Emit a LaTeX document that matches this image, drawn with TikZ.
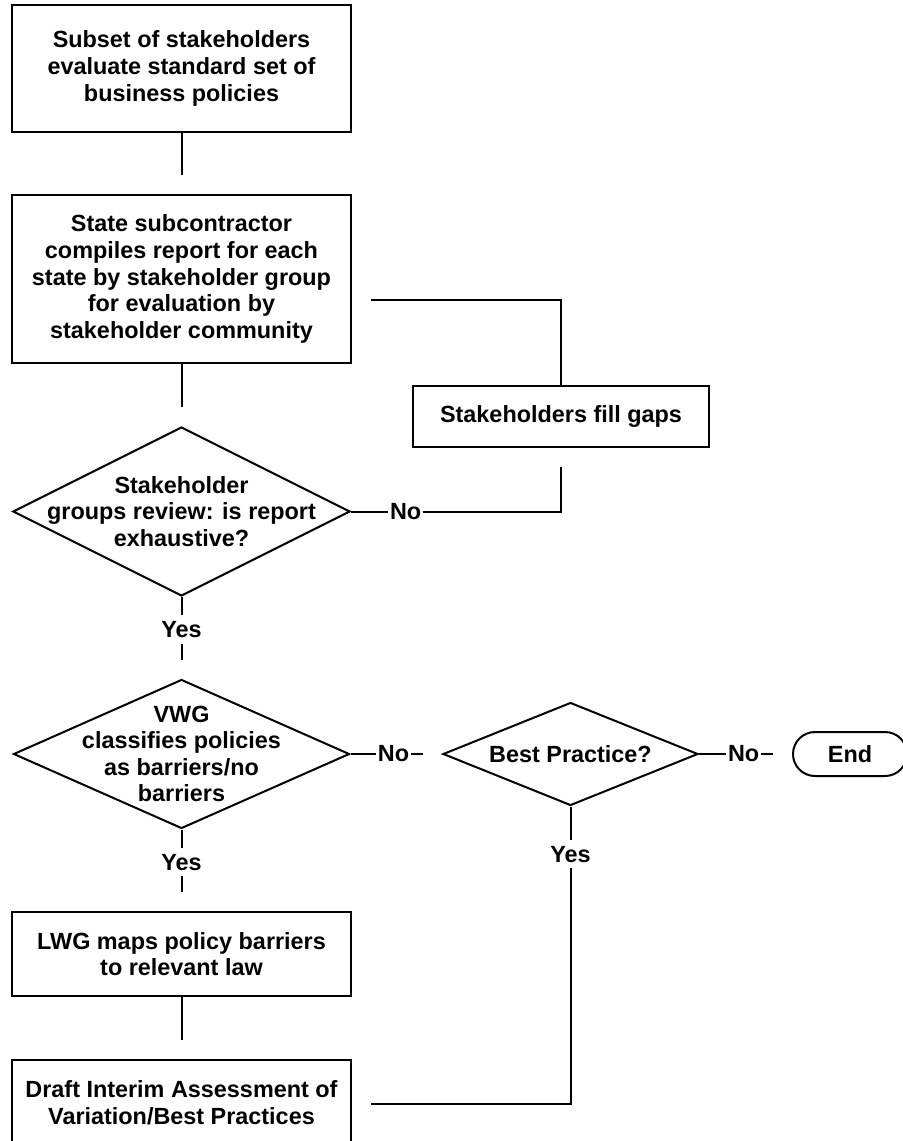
\documentclass[tikz,border=0pt]{standalone}
\usepackage{fontspec}
\setmainfont{Liberation Sans}
\usetikzlibrary{shapes.geometric}

\begin{document}
\begin{tikzpicture}[
        x=0.5pt, y=-0.5pt, line width=1pt,
        font=\fontsize{11.7}{13.3}\selectfont\bfseries,
        box/.style={rectangle, draw, minimum width=169.5pt, align=center, inner sep=0pt},
        decision/.style={diamond, draw, inner sep=0pt},
        txt/.style={align=center, inner sep=0pt},
        term/.style={rectangle, draw, rounded corners=11pt, minimum width=57pt, minimum height=22pt},
        link/.style={draw, shorten >=9.5pt},
        lbl/.style={fill=white, inner xsep=1pt, inner ysep=3pt}
    ]
        \path[use as bounding box] (0,0) rectangle (903,1141);
        \clip (0,0) rectangle (903,1141);

        \node[box, minimum height=63.5pt] (eval) at (181.5, 68.5) {Subset of stakeholders\\evaluate standard set of\\business policies};
        \node[box, minimum height=84pt] (report) at (181.5, 279) {State subcontractor\\compiles report for each\\state by stakeholder group\\for evaluation by\\stakeholder community};
        \node[box, minimum width=148pt, minimum height=30.5pt] (gaps) at (561, 416.5) {Stakeholders fill gaps};

        \node[decision, minimum width=168.5pt, minimum height=84.5pt] (review) at (181.5, 511.5) {};
        \node[txt] (reviewtxt) at (review) {Stakeholder\\groups review: is report\\exhaustive?};

        \node[decision, minimum width=168pt, minimum height=74.5pt] (classify) at (181.5, 754) {};
        \node[txt] (classifytxt) at (classify) {VWG\\classifies policies\\as barriers/no\\barriers};

        \node[decision, minimum width=127.5pt, minimum height=51.5pt] (best) at (570.5, 754) {};
        \node[txt] (besttxt) at (best) {Best Practice?};

        \node[term] (done) at (850, 754) {End};

        \node[box, minimum height=42pt] (lawmap) at (181.5, 954) {LWG maps policy barriers\\to relevant law};
        \node[box, minimum height=43pt] (draft) at (181.5, 1103) {Draft Interim Assessment of\\Variation/Best Practices};

        \draw[link] (eval) -- (report);
        \draw[link] (report) -- (review);
        \draw[link] (review.east) -| node[lbl, pos=0.13] {No} (gaps.south);
        \draw[link] (gaps.north) |- ([yshift=-10.5pt]report.east);
        \draw[link] (review.south) -- node[lbl, pos=0.4] {Yes} (classify.north);
        \draw[link] (classify.east) -- node[lbl, pos=0.47] {No} (best.west);
        \draw[link] (best.east) -- node[lbl, pos=0.48] {No} (done.west);
        \draw[link] (best.south) |- node[lbl, pos=0.08] {Yes} ([yshift=-0.5pt]draft.east);
        \draw[link] (classify.south) -- node[lbl, pos=0.4] {Yes} (lawmap.north);
        \draw[link] (lawmap) -- (draft);
    \end{tikzpicture}
\end{document}
